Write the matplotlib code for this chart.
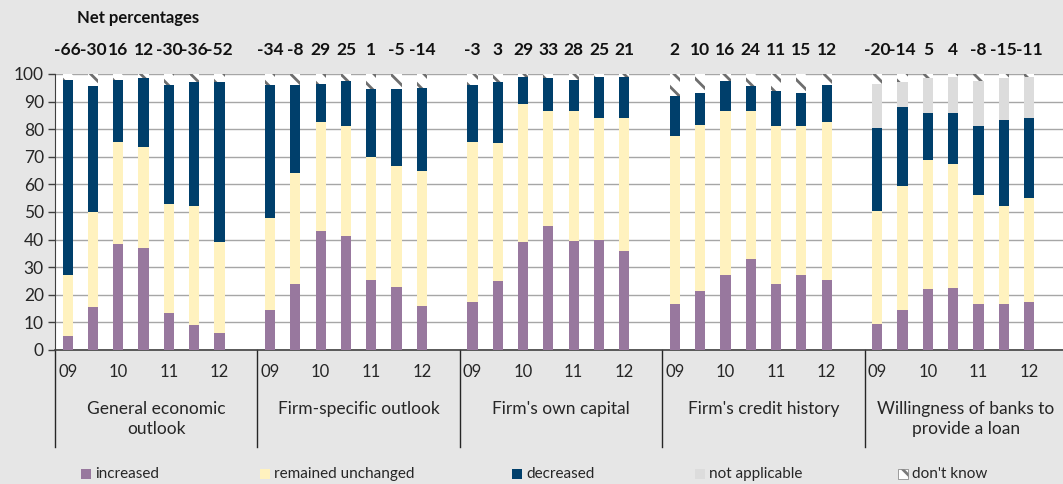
import numpy as np
import matplotlib
matplotlib.use("Agg")
import matplotlib.pyplot as plt
from matplotlib.patches import Rectangle
from matplotlib.transforms import blended_transform_factory

plt.rcParams["font.family"] = ["Lato", "DejaVu Sans"]
plt.rcParams["hatch.linewidth"] = 2.0

groups = ["General economic\noutlook", "Firm-specific outlook", "Firm's own capital",
          "Firm's credit history", "Willingness of banks to\nprovide a loan"]
years = ["09", "10", "11", "12"]

# per bar, 7 survey rounds per group
increased = [5, 15.5, 38.5, 37, 13.5, 9, 6,
             14.5, 24, 43, 41.3, 25.5, 23, 16,
             17.5, 25, 39, 45, 39.5, 40, 36,
             16.5, 21.5, 27, 33, 24, 27, 25.5,
             9.5, 14.5, 22, 22.5, 16.5, 16.5, 17.5]
unchanged = [22, 34.5, 37, 36.5, 39.5, 43, 33,
             33.5, 40, 39.5, 40, 44.5, 43.5, 49,
             58, 50, 50, 41.5, 47, 44, 48,
             61, 60, 59.5, 53.5, 57, 54, 57,
             41, 45, 47, 45, 39.5, 35.5, 37.5]
decreased = [71, 45.5, 22.5, 25, 43, 45, 58,
             48, 32, 14, 16, 24.5, 28, 30,
             20.5, 22, 10, 12, 11.5, 15, 15,
             14.5, 11.5, 11, 9, 13, 12, 13.5,
             30, 28.5, 17, 18.5, 25, 31.5, 29]
not_applicable = [0] * 28 + [16, 9, 12.5, 13, 16.5, 15, 15]
net_labels = ["-66", "-30", "16", "12", "-30", "-36", "-52",
              "-34", "-8", "29", "25", "1", "-5", "-14",
              "-3", "3", "29", "33", "28", "25", "21",
              "2", "10", "16", "24", "11", "15", "12",
              "-20", "-14", "5", "4", "-8", "-15", "-11"]

inc = np.array(increased, dtype=float)
unc = np.array(unchanged, dtype=float)
dec = np.array(decreased, dtype=float)
na = np.array(not_applicable, dtype=float)
dk = 100 - (inc + unc + dec + na)

n_per = 7
slots = n_per + 1
x = np.array([g * slots + i for g in range(len(groups)) for i in range(n_per)], dtype=float)

c_inc, c_unc, c_dec, c_na = "#98789e", "#fff2bf", "#003f6b", "#dcdcdc"
bg = "#e6e6e6"
txt = "#262626"

W, H = 1063, 484
fig = plt.figure(figsize=(W / 100, H / 100), dpi=100, facecolor=bg)
ax = fig.add_axes([55 / W, (H - 350) / H, 1012 / W, 276 / H])
ax.set_facecolor("white")

bw = 0.4
ax.bar(x, inc, bw, color=c_inc, zorder=3)
ax.bar(x, unc, bw, bottom=inc, color=c_unc, zorder=3)
ax.bar(x, dec, bw, bottom=inc + unc, color=c_dec, zorder=3)
ax.bar(x, na, bw, bottom=inc + unc + dec, color=c_na, zorder=3)
ax.bar(x, dk, bw, bottom=inc + unc + dec + na, color="white",
       edgecolor="#6e6e6e", linewidth=0, hatch="\\\\", zorder=3)

ax.set_xlim(-0.5, len(groups) * slots - 0.5)
ax.set_ylim(0, 100)
ax.set_yticks(range(0, 101, 10))
ax.yaxis.grid(True, color="#a6a6a6", linewidth=1)
ax.set_axisbelow(True)
ax.tick_params(axis="y", length=5, width=1, color="#404040", labelsize=12.5,
               labelcolor=txt, pad=3)
for s in ["top", "right"]:
    ax.spines[s].set_visible(False)
ax.spines["left"].set_color("#404040")
ax.spines["bottom"].set_color("#404040")
ax.spines["bottom"].set_linewidth(1.2)

# year ticks at first, third, fifth and seventh bar of each group
xt = [g * slots + k * 2 for g in range(len(groups)) for k in range(4)]
ax.set_xticks(xt)
ax.set_xticklabels(years * len(groups))
ax.tick_params(axis="x", length=0, labelsize=12, labelcolor=txt, pad=10)

trans = blended_transform_factory(ax.transData, ax.transAxes)
for g, name in enumerate(groups):
    xs = g * slots - 0.5
    ax.plot([xs, xs], [0, -97 / 276], color="#262626", linewidth=1,
            transform=trans, clip_on=False)
    ax.text(g * slots + 3.5, -51 / 276, name, transform=trans, ha="center",
            va="top", fontsize=12.5, color=txt, linespacing=1.3)

for xi, lab in zip(x, net_labels):
    ax.text(xi, 1 + 24 / 276, lab, transform=trans, ha="center", va="center",
            fontsize=12.5, fontweight="bold", color="#111111")
fig.text(77 / W, 1 - 18 / H, "Net percentages", ha="left", va="center",
         fontsize=12, fontweight="bold", color="#111111")

# legend along the bottom
leg = [("increased", c_inc, None, 81), ("remained unchanged", c_unc, None, 260),
       ("decreased", c_dec, None, 512), ("not applicable", c_na, None, 695),
       ("don't know", "white", "\\\\", 898)]
for lab, col, hatch, px in leg:
    r = Rectangle((px / W, (H - 479) / H), 10 / W, 10 / H, transform=fig.transFigure,
                  facecolor=col, edgecolor="#7a7a7a" if hatch else col,
                  linewidth=0.5 if hatch else 0, hatch=hatch)
    fig.patches.append(r)
    fig.text((px + 14) / W, (H - 474) / H, lab, ha="left", va="center",
             fontsize=11, color=txt)

fig.savefig("out.png", dpi=100, facecolor=bg)
